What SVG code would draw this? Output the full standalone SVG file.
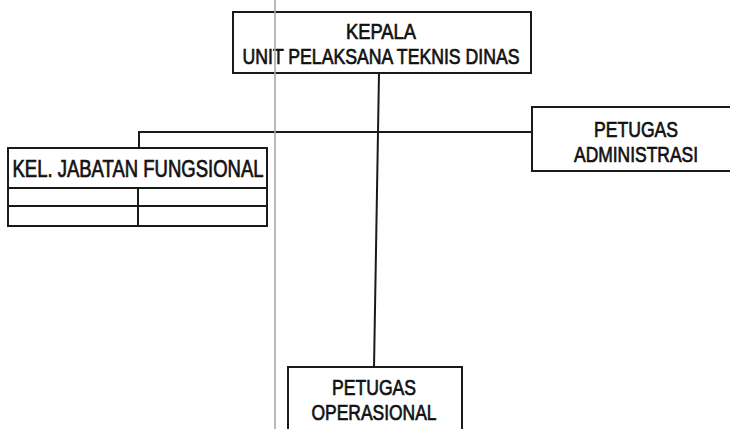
<svg xmlns="http://www.w3.org/2000/svg" width="730" height="429" viewBox="0 0 730 429">
<style>
.box{fill:#fff;stroke:#1a1a1a;stroke-width:2}
.ln{fill:none;stroke:#1a1a1a;stroke-width:2}
.t{font-family:"Liberation Sans","Arial",sans-serif;font-size:22px;fill:#111;text-anchor:middle;stroke:#111;stroke-width:0.7}
.b{font-size:23px}
</style>
<rect width="730" height="429" fill="#fff"/>
<g id="connectors">
<path class="ln" d="M379 73 L374 368"/>
<path class="ln" d="M139 148 L139 132 L532 132"/>
</g>
<g id="kepala">
<rect class="box" x="233" y="12" width="298" height="61"/>
<text class="t" x="381" y="39" textLength="70" lengthAdjust="spacingAndGlyphs">KEPALA</text>
<text class="t" x="381" y="64" textLength="277" lengthAdjust="spacingAndGlyphs">UNIT PELAKSANA TEKNIS DINAS</text>
</g>
<g id="fungsional">
<rect class="box" x="8" y="148" width="259" height="78"/>
<line class="ln" x1="8" y1="188" x2="267" y2="188"/>
<line class="ln" x1="8" y1="206" x2="267" y2="206"/>
<line class="ln" x1="138" y1="188" x2="138" y2="226"/>
<text class="t b" x="138" y="177" textLength="251" lengthAdjust="spacingAndGlyphs">KEL. JABATAN FUNGSIONAL</text>
</g>
<g id="administrasi">
<rect class="box" x="532" y="107" width="210" height="64"/>
<text class="t" x="636" y="137" textLength="84" lengthAdjust="spacingAndGlyphs">PETUGAS</text>
<text class="t" x="636" y="162" textLength="124" lengthAdjust="spacingAndGlyphs">ADMINISTRASI</text>
</g>
<g id="operasional">
<rect class="box" x="288" y="367" width="174" height="80"/>
<text class="t" x="374" y="395" textLength="84" lengthAdjust="spacingAndGlyphs">PETUGAS</text>
<text class="t" x="374" y="420" textLength="125" lengthAdjust="spacingAndGlyphs">OPERASIONAL</text>
</g>
<line x1="275" y1="0" x2="275" y2="429" stroke="#a8a8a8" stroke-width="2" stroke-opacity="0.8"/>
</svg>
